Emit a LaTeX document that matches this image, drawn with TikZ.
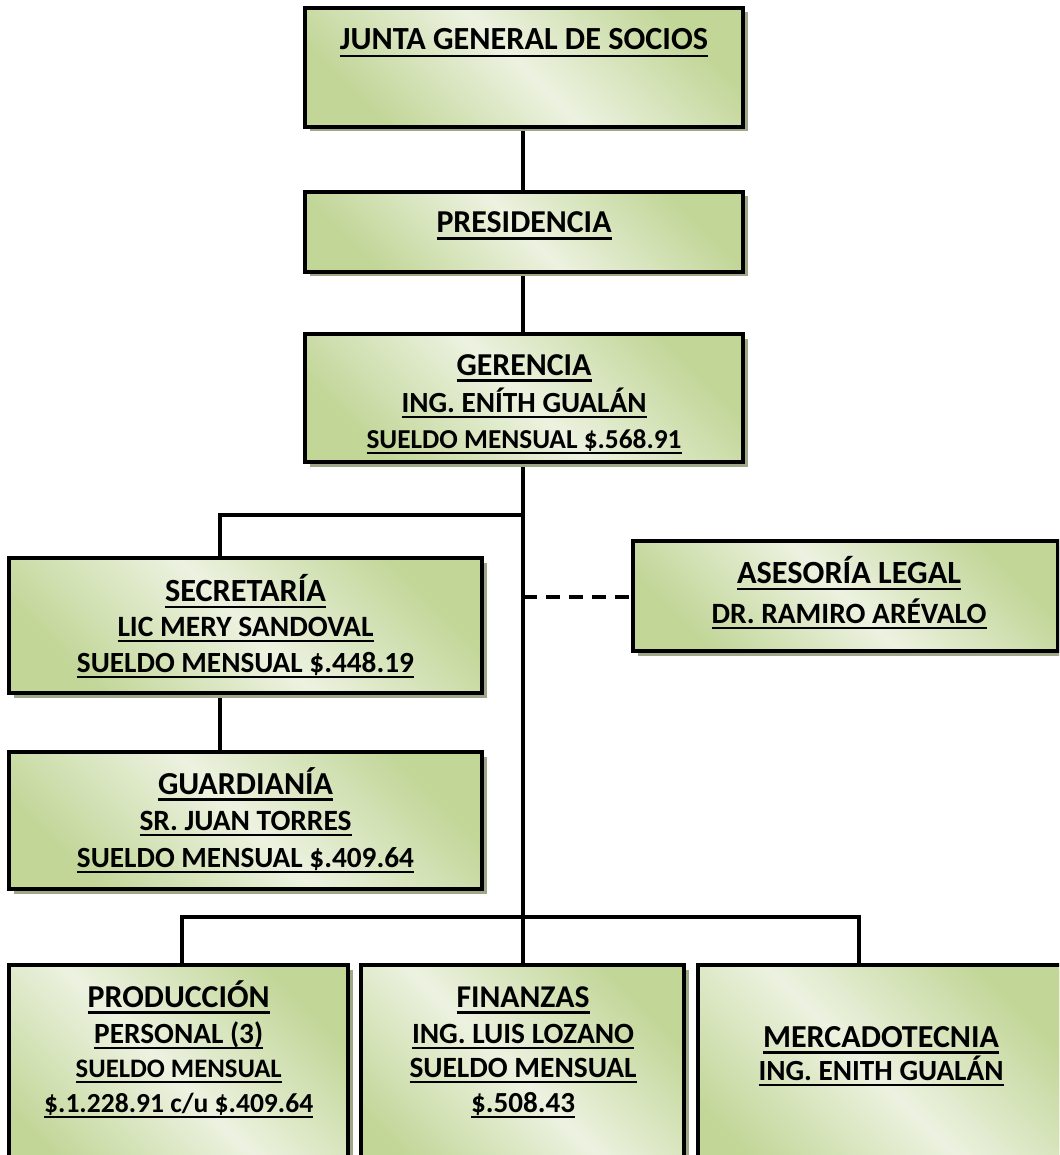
\documentclass[tikz,border=0pt]{standalone}
\usepackage{fontspec}
\setmainfont{Carlito}
\usepackage{graphicx}
\usetikzlibrary{shadows}
\pgfdeclarelayer{bg}
\pgfsetlayers{bg,main}
\definecolor{gd}{RGB}{194,214,152}
\definecolor{gl}{RGB}{236,242,224}
\definecolor{shd}{RGB}{158,167,135}
\newcommand\myul[1]{\setbox0=\hbox{#1}\rlap{\copy0}\rule[-0.21em]{\wd0}{0.07em}}
\newcommand\utxt[2]{\resizebox{#1pt}{!}{\myul{#2}}}
\tikzset{
  orgbox/.style={draw=black, line width=3.2pt, top color=gd, bottom color=gd, middle color=gl,
    shading angle=-45,
    drop shadow={shadow xshift=4.5pt, shadow yshift=-4.5pt, fill=shd, opacity=1},
    inner sep=0pt},
  conn/.style={line width=3.2pt, draw=black},
  lbl/.style={anchor=base, inner sep=0pt, font=\fontsize{30}{36}\selectfont\bfseries},
}
\begin{document}
\begin{tikzpicture}[x=1pt,y=-1pt]
\begin{pgfonlayer}{bg}
\fill[white] (0,0) rectangle (1059,1155);
\end{pgfonlayer}
\clip (0,0) rectangle (1059,1155);

% boxes
\node[orgbox, minimum width=438pt, minimum height=119pt] (junta) at (524,67.5) {};
\node[orgbox, minimum width=438pt, minimum height=80pt]  (pres)  at (524,232) {};
\node[orgbox, minimum width=438pt, minimum height=128pt] (ger)   at (524,398) {};
\node[orgbox, minimum width=473pt, minimum height=135pt] (sec)   at (245.5,625.5) {};
\node[orgbox, minimum width=425pt, minimum height=110pt] (ase)   at (845.5,596) {};
\node[orgbox, minimum width=473pt, minimum height=137pt] (guard) at (245.5,820.5) {};
\node[orgbox, minimum width=339pt, minimum height=230pt] (prod)  at (178.5,1080) {};
\node[orgbox, minimum width=323pt, minimum height=230pt] (fin)   at (522.5,1080) {};
\node[orgbox, minimum width=366pt, minimum height=230pt] (merc)  at (881,1080) {};

% helper coordinates for connector routes
\coordinate (mx) at (523,0);
\coordinate (sx) at (220,0);
\coordinate (by) at (0,515);
\coordinate (dy) at (0,597);
\coordinate (hy) at (0,917);
\coordinate (px) at (182,0);
\coordinate (mkx) at (859,0);

% connectors
\begin{pgfonlayer}{bg}
\draw[conn] (junta.south -| mx) -- (pres.north -| mx);
\draw[conn] (pres.south -| mx) -- (ger.north -| mx);
\draw[conn] (ger.south -| mx) -- (fin.north -| mx);
\draw[conn] (by -| mx) -- (by -| sx) -- (sec.north -| sx);
\draw[conn] (sec.south -| sx) -- (guard.north -| sx);
\draw[conn, dash pattern=on 14pt off 9pt] (dy -| mx) -- (ase.west |- dy);
\draw[conn] (prod.north -| px) -- (hy -| px) -- (hy -| mkx) -- (merc.north -| mkx);
\end{pgfonlayer}

% texts
\node[lbl] (juntaT) at (524,50) {\utxt{368}{JUNTA GENERAL DE SOCIOS}};
\node[lbl] (presT) at (524,233) {\utxt{175}{PRESIDENCIA}};
\node[lbl] (gerT1) at (524,375) {\utxt{135}{GERENCIA}};
\node[lbl] (gerT2) at (524,412) {\utxt{245}{ING. ENÍTH GUALÁN}};
\node[lbl] (gerT3) at (524,448) {\utxt{315}{SUELDO MENSUAL \$.568.91}};
\node[lbl] (secT1) at (245.5,601) {\utxt{161}{SECRETARÍA}};
\node[lbl] (secT2) at (245.5,636) {\utxt{256}{LIC MERY SANDOVAL}};
\node[lbl] (secT3) at (245.5,672) {\utxt{337}{SUELDO MENSUAL \$.448.19}};
\node[lbl] (aseT1) at (849,583) {\utxt{224}{ASESORÍA LEGAL}};
\node[lbl] (aseT2) at (849,623) {\utxt{275}{DR. RAMIRO ARÉVALO}};
\node[lbl] (guardT1) at (245.5,794) {\utxt{175}{GUARDIANÍA}};
\node[lbl] (guardT2) at (245.5,830) {\utxt{212}{SR. JUAN TORRES}};
\node[lbl] (guardT3) at (245.5,867) {\utxt{337}{SUELDO MENSUAL \$.409.64}};
\node[lbl] (prodT1) at (178.7,1007) {\utxt{182}{PRODUCCIÓN}};
\node[lbl] (prodT2) at (178.7,1043) {\utxt{169}{PERSONAL (3)}};
\node[lbl] (prodT3) at (178.7,1077) {\utxt{206}{SUELDO MENSUAL}};
\node[lbl] (prodT4) at (178.7,1112) {\utxt{269}{\$.1.228.91 c/u \$.409.64}};
\node[lbl] (finT1) at (523,1007) {\utxt{133}{FINANZAS}};
\node[lbl] (finT2) at (523,1043) {\utxt{222}{ING. LUIS LOZANO}};
\node[lbl] (finT3) at (523,1077) {\utxt{227}{SUELDO MENSUAL}};
\node[lbl] (finT4) at (523,1112) {\utxt{104}{\$.508.43}};
\node[lbl] (mercT1) at (881,1047) {\utxt{236}{MERCADOTECNIA}};
\node[lbl] (mercT2) at (881,1080) {\utxt{245}{ING. ENITH GUALÁN}};
\end{tikzpicture}
\end{document}
